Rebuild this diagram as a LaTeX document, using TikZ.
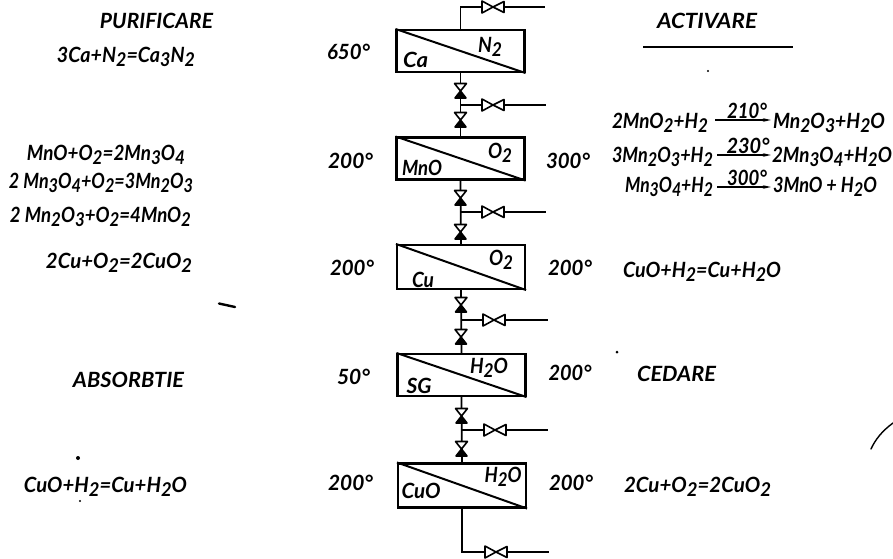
\documentclass[tikz,border=0pt]{standalone}
\usepackage{graphicx}
\usepackage{fontspec}
\usetikzlibrary{arrows.meta}
\newfontfamily\hand{Lato}
\newcommand{\dn}[1]{\raisebox{-4pt}{\fontsize{19}{19}\selectfont #1}}
\newcommand{\dg}{°}
\newcommand{\T}[5]{\node[lab] (#1) at (#2,#3) {\resizebox{#4pt}{\height}{#5}};}
\newcommand{\Valve}[1]{%
  \draw[valveup,fill=black] ([yshift=-7pt]#1) -- ([xshift=-5.5pt,yshift=-7pt]#1) -- (#1) -- ([xshift=5.5pt,yshift=-7pt]#1) -- cycle;
  \draw[valveup,fill=white] (#1) -- ([xshift=-6pt,yshift=7.5pt]#1) -- ([xshift=6pt,yshift=7.5pt]#1) -- cycle;}
\newcommand{\HValve}[1]{%
  \draw[valveup,fill=white] (#1) -- ([xshift=-11pt,yshift=-6pt]#1) -- ([xshift=-11pt,yshift=6pt]#1) -- cycle;
  \draw[valveup,fill=white] (#1) -- ([xshift=11pt,yshift=-5.5pt]#1) -- ([xshift=11pt,yshift=5.5pt]#1) -- cycle;}
\tikzset{
  lab/.style={inner sep=0pt,font=\hand\bfseries\itshape\fontsize{21}{22}\selectfont,anchor=base},
  vessel/.style={draw,line width=2.1pt,minimum width=128pt,minimum height=42pt,inner sep=0pt},
  pipe/.style={line width=1.7pt},
  valveup/.style={line width=1.6pt,line join=round},
  diag/.style={line width=2pt},
  react/.style={line width=1.7pt,-{Stealth[length=8pt,width=3.5pt]}},
}
\begin{document}
\begin{tikzpicture}[x=1pt,y=-1pt]
\useasboundingbox (0,0) rectangle (893,558);
% vessels
\node[vessel] (b1) at (460.5,51) {};
\node[vessel] (b2) at (460.5,158.5) {};
\node[vessel,minimum height=44pt] (b3) at (461,267) {};
\node[vessel] (b4) at (461.5,375) {};
\node[vessel,minimum height=44pt] (b5) at (462,485.5) {};
\foreach \b in {b1,b2,b3,b4,b5}{\draw[diag] (\b.north west) -- (\b.south east);}
% junctions and ends
\coordinate (t1) at (460.5,7);
\coordinate (e0) at (545,7);
\coordinate (j1) at (460.5,105);
\coordinate (e1) at (546,105);
\coordinate (j2) at (460.5,212);
\coordinate (e2) at (546,212);
\coordinate (j3) at (461,320);
\coordinate (e3) at (548,320);
\coordinate (j4) at (461.5,430);
\coordinate (e4) at (548,430);
\coordinate (t5) at (462,552);
\coordinate (e5) at (549,552);
\draw[pipe] (b1.north) -- (t1) -- (e0);
\draw[pipe] (b1.south) -- (b2.north);
\draw[pipe] (b2.south) -- (b3.north);
\draw[pipe] (b3.south) -- (b4.north);
\draw[pipe] (b4.south) -- (b5.north);
\draw[pipe] (b5.south) -- (t5) -- (e5);
\draw[pipe] (j1) -- (e1);
\draw[pipe] (j2) -- (e2);
\draw[pipe] (j3) -- (e3);
\draw[pipe] (j4) -- (e4);
% valves
\coordinate (v1) at (460.5,91);\Valve{v1}
\coordinate (v2) at (460.5,120);\Valve{v2}
\coordinate (v3) at (460.5,198);\Valve{v3}
\coordinate (v4) at (460.5,232);\Valve{v4}
\coordinate (v5) at (461,305);\Valve{v5}
\coordinate (v6) at (461,337);\Valve{v6}
\coordinate (v7) at (461.5,416);\Valve{v7}
\coordinate (v8) at (461.5,449);\Valve{v8}
\coordinate (h0) at (493,7);\HValve{h0}
\coordinate (h1) at (493,105);\HValve{h1}
\coordinate (h2) at (493,212);\HValve{h2}
\coordinate (h3) at (494,320);\HValve{h3}
\coordinate (h4) at (495,430);\HValve{h4}
\coordinate (h5) at (496,552);\HValve{h5}
% vessel labels
\T{l1a}{415.5}{67}{25}{Ca}
\T{l1b}{490}{52}{24}{N\dn{2}}
\T{l2a}{422}{175}{40}{MnO}
\T{l2b}{500}{158}{24}{O\dn{2}}
\T{l3a}{423}{287}{22}{Cu}
\T{l3b}{501}{265}{24}{O\dn{2}}
\T{l4a}{419}{393}{25}{SG}
\T{l4b}{489}{373}{38}{H\dn{2}O}
\T{l5a}{421}{498}{39}{CuO}
\T{l5b}{503}{482}{37}{H\dn{2}O}
% temperatures
\T{ta}{348.5}{59}{43}{650\dg}
\T{tb}{350.5}{168}{45}{200\dg}
\T{tc}{352}{275}{44}{200\dg}
\T{td}{353.5}{384}{33}{50\dg}
\T{te}{350.5}{490}{45}{200\dg}
\T{tf}{568}{168}{44}{300\dg}
\T{tg}{570}{275}{44}{200\dg}
\T{th}{570}{380}{43}{200\dg}
\T{ti}{571}{490}{44}{200\dg}
% left column
\T{p1}{156.5}{28}{113}{PURIFICARE}
\T{p2}{126}{62}{138}{3Ca+N\dn{2}=Ca\dn{3}N\dn{2}}
\T{p3}{106}{160}{158}{MnO+O\dn{2}=2Mn\dn{3}O\dn{4}}
\T{p4}{101}{188}{184}{2 Mn\dn{3}O\dn{4}+O\dn{2}=3Mn\dn{2}O\dn{3}}
\T{p5}{100.5}{222}{181}{2 Mn\dn{2}O\dn{3}+O\dn{2}=4MnO\dn{2}}
\T{p6}{119}{268}{146}{2Cu+O\dn{2}=2CuO\dn{2}}
\T{p7}{128.5}{387}{111}{ABSORBTIE}
\T{p8}{105.5}{492}{163}{CuO+H\dn{2}=Cu+H\dn{2}O}
% right column
\T{r1}{707}{28}{100}{ACTIVARE}
\coordinate (ua) at (643,47); \coordinate (ub) at (793,47);
\draw[pipe] (ua) -- (ub);
\T{r2}{660}{128}{96}{2MnO\dn{2}+H\dn{2}}
\T{r3}{829}{128}{112}{Mn\dn{2}O\dn{3}+H\dn{2}O}
\T{r4}{662.5}{162}{101}{3Mn\dn{2}O\dn{3}+H\dn{2}}
\T{r5}{832}{162}{120}{2Mn\dn{3}O\dn{4}+H\dn{2}O}
\T{r6}{669}{192}{88}{Mn\dn{3}O\dn{4}+H\dn{2}}
\T{r7}{825}{192}{104}{3MnO + H\dn{2}O}
\T{r8}{747}{118}{40}{210\dg}
\T{r9}{748}{153}{43}{230\dg}
\T{r10}{747}{185}{40}{300\dg}
\coordinate (a1s) at (715,120); \coordinate (a1e) at (771,120);
\coordinate (a2s) at (717,155); \coordinate (a2e) at (771,155);
\coordinate (a3s) at (717,187); \coordinate (a3e) at (771,187);
\draw[react] (a1s) -- (a1e);
\draw[react] (a2s) -- (a2e);
\draw[react] (a3s) -- (a3e);
\T{r11}{702}{277}{158}{CuO+H\dn{2}=Cu+H\dn{2}O}
\T{r12}{676.5}{381}{79}{CEDARE}
\T{r13}{697.5}{492}{147}{2Cu+O\dn{2}=2CuO\dn{2}}
% specks of the original
\fill (708,71) circle (1.2pt);
\fill (617,352) circle (1.5pt);
\fill (78,458) circle (2pt);
\fill (80,501) circle (1.2pt);
\draw[line width=2.4pt,line cap=round] (219,303.5) -- (235,307);
\draw[line width=1.4pt,line cap=round] (893,423) .. controls (882,431) and (875,440) .. (871,449);
\end{tikzpicture}
\end{document}
